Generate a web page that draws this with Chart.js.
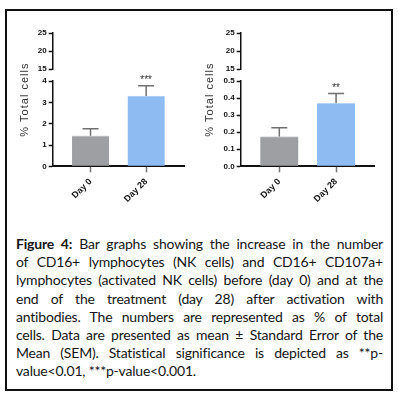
<!DOCTYPE html>
<html><head><meta charset="utf-8">
<script src="https://cdn.jsdelivr.net/npm/chart.js@4/dist/chart.umd.min.js"></script>
<style>
html,body{margin:0;padding:0;background:#fff;width:398px;height:399px;overflow:hidden;position:relative;}
#frame{position:absolute;left:5px;top:9px;width:384px;height:378px;border:2px solid #111;}
canvas{position:absolute;top:0;}
#c1{left:0}
#c2{left:199px}
#cap{position:absolute;left:16px;top:235px;width:367px;font-family:Lato,'Open Sans',sans-serif;font-size:14px;letter-spacing:-0.2px;line-height:18.2px;color:#151515;}
#cap div{text-align:justify;text-align-last:justify;}
#cap div.last{text-align-last:left;}
</style>
</head><body>
<div id="frame"></div>
<canvas id="c1" width="199" height="215"></canvas>
<canvas id="c2" width="199" height="215"></canvas>
<div id="cap">
<div><b>Figure 4:</b> Bar graphs showing the increase in the number</div>
<div>of CD16+ lymphocytes (NK cells) and CD16+ CD107a+</div>
<div>lymphocytes (activated NK cells) before (day 0) and at the</div>
<div>end of the treatment (day 28) after activation with</div>
<div>antibodies. The numbers are represented as % of total</div>
<div>cells. Data are presented as mean ± Standard Error of the</div>
<div>Mean (SEM). Statistical significance is depicted as **p-</div>
<div class="last">value&lt;0.01, ***p-value&lt;0.001.</div>
</div>
<script>
// ---- data ----
const categories = ['Day 0', 'Day 28'];
const nkMean = [1.43, 3.30];
const nkSem = [0.33, 0.48];
const nkSig = ['', '***'];
const actMean = [0.175, 0.37];
const actSem = [0.051, 0.057];
const actSig = ['', '**'];
const upperTicks = [15, 20, 25];
const nkTicks = [0, 1, 2, 3, 4];
const actTicks = [0, 0.1, 0.2, 0.3, 0.4, 0.5];
const yTitle = '% Total cells';

const TICK_FONT = {family: "'Liberation Sans',Arial,sans-serif", size: 8, weight: 'bold'};
const XTICK_FONT = {family: "'Liberation Sans',Arial,sans-serif", size: 9, weight: 'bold'};
const AXIS_BOTTOM = 166.3, CANVAS_H = 215, AREA_TOP = 33, Y_W = 40;

const errPlugin = {
  id: 'err',
  afterDatasetsDraw(chart, args, o) {
    const ctx = chart.ctx, ys = chart.scales.yLow, xs = chart.scales.x;
    o.mean.forEach((m, i) => {
      const x = xs.getPixelForValue(i);
      const yT = ys.getPixelForValue(m + o.sem[i]);
      const yB = ys.getPixelForValue(m);
      ctx.save();
      ctx.strokeStyle = '#707072'; ctx.lineWidth = 1.5;
      ctx.beginPath();
      ctx.moveTo(x, yB); ctx.lineTo(x, yT);
      ctx.moveTo(x - o.cap / 2, yT); ctx.lineTo(x + o.cap / 2, yT);
      ctx.stroke();
      if (o.sig[i]) {
        ctx.fillStyle = '#333';
        ctx.font = "10px 'Liberation Sans',Arial,sans-serif";
        ctx.textAlign = 'center'; ctx.textBaseline = 'alphabetic';
        ctx.fillText(o.sig[i], x, yT - 2.5);
      }
      ctx.restore();
    });
    const top = chart.scales.yHigh.top, bot = ys.bottom;
    ctx.save();
    ctx.translate(chart.chartArea.left - o.titleOffset, (top + bot) / 2);
    ctx.rotate(-Math.PI / 2);
    ctx.font = "11px 'Liberation Sans',Arial,sans-serif";
    try { ctx.letterSpacing = '1px'; } catch (e) {}
    ctx.fillStyle = '#333'; ctx.textAlign = 'center'; ctx.textBaseline = 'middle';
    ctx.fillText(o.title, 0, 0);
    ctx.restore();
  }
};

function yScale(ticks, weight, fmt) {
  return {
    type: 'linear', position: 'left', stack: 'y', stackWeight: weight,
    min: ticks[0], max: ticks[ticks.length - 1],
    afterBuildTicks: s => { s.ticks = ticks.map(v => ({value: v})); },
    ticks: {callback: v => fmt(v), font: TICK_FONT, color: '#111', padding: 2, autoSkip: false},
    grid: {drawOnChartArea: false, drawTicks: true, tickLength: 4, tickColor: '#111', tickWidth: 1.5},
    border: {color: '#111', width: 1.5},
    afterFit: s => { s.width = Y_W; }
  };
}

function makeChart(id, mean, sem, sig, lowTicks, fmt, padL, padR, barW, titleOffset) {
  return new Chart(document.getElementById(id), {
    type: 'bar',
    data: {
      datasets: [{
        data: mean.map((v, i) => ({x: i, y: v})),
        backgroundColor: ['#9e9fa3', '#8dbbf2'],
        borderColor: ['#d2d2d4', '#b6d4f7'],
        borderWidth: {top: 1, left: 0, right: 0, bottom: 0},
        barThickness: barW,
        yAxisID: 'yLow'
      }]
    },
    options: {
      responsive: false, animation: false,
      layout: {padding: {left: padL, right: padR, top: AREA_TOP, bottom: 0}},
      plugins: {legend: {display: false}, tooltip: {enabled: false},
        err: {mean, sem, sig, cap: 16, title: yTitle, titleOffset}},
      scales: {
        x: {
          type: 'linear', min: -0.68, max: 1.68, offset: false,
          afterBuildTicks: s => { s.ticks = categories.map((c, i) => ({value: i})); },
          ticks: {callback: v => categories[v], maxRotation: 45, minRotation: 45, font: XTICK_FONT, color: '#111', padding: 4, autoSkip: false},
          grid: {offset: false, drawOnChartArea: false, drawTicks: true, tickLength: 6, tickColor: '#777', tickWidth: 1.5},
          border: {color: '#111', width: 2},
          afterFit: s => { s.height = CANVAS_H - AXIS_BOTTOM; }
        },
        yLow: yScale(lowTicks, 85, fmt),
        yGap: {type: 'linear', position: 'left', stack: 'y', stackWeight: 12,
          ticks: {display: false}, grid: {display: false}, border: {display: false},
          afterFit: s => { s.width = Y_W; }},
        yHigh: yScale(upperTicks, 36, v => String(v))
      }
    },
    plugins: [errPlugin]
  });
}

makeChart('c1', nkMean, nkSem, nkSig, nkTicks, v => String(v), 12.7, 15, 37, 27.7);
makeChart('c2', actMean, actSem, actSig, actTicks, v => v.toFixed(1), 1.7, 23.3, 38, 30.7);
</script>
</body></html>
